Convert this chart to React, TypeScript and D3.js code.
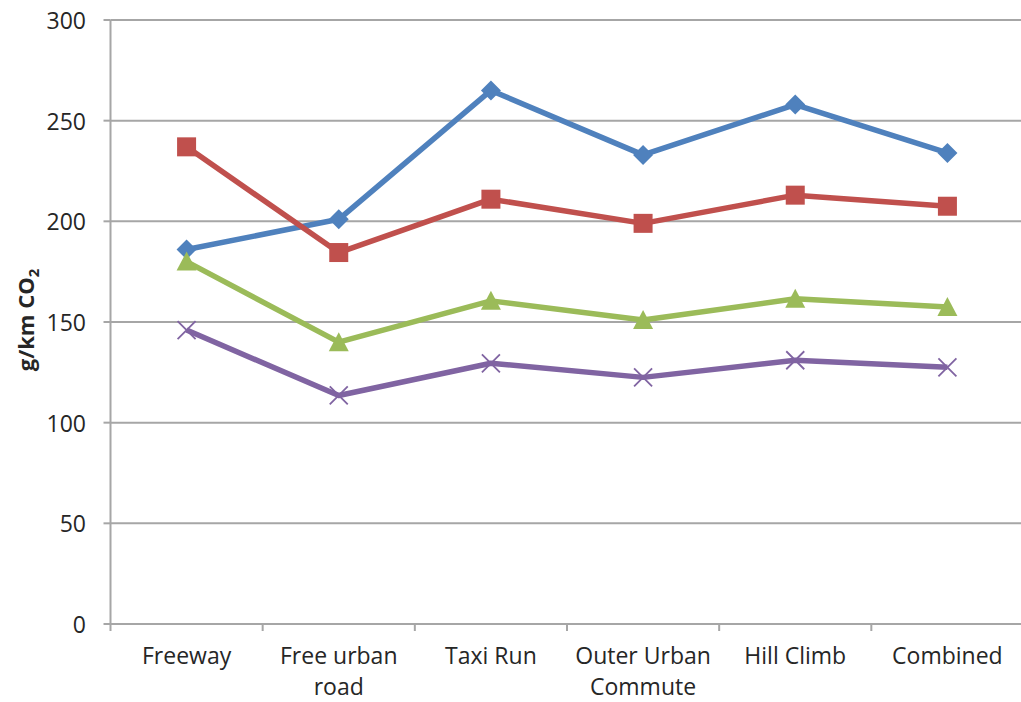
import React from "react";
import * as d3 from "d3";

// Drive cycles on the horizontal axis
const categories = ["Freeway", "Free urban road", "Taxi Run", "Outer Urban Commute", "Hill Climb", "Combined"];
const categoryLines = [["Freeway"], ["Free urban", "road"], ["Taxi Run"], ["Outer Urban", "Commute"], ["Hill Climb"], ["Combined"]];

// CO2 emissions per cycle (g/km)
const seriesA = [186, 201, 265, 233, 258, 234];
const seriesB = [237, 184.5, 211, 199, 213, 207.5];
const seriesC = [180, 140, 160.5, 151, 161.5, 157.5];
const seriesD = [146, 113.5, 129.5, 122.5, 131, 127.5];

const yTicks = [0, 50, 100, 150, 200, 250, 300];

const W = 1021;
const H = 702;
const margin = { left: 110.5, right: 0, top: 20, bottom: 78 };

type Shape = "diamond" | "square" | "triangle" | "x";
const series: { values: number[]; color: string; shape: Shape }[] = [
  { values: seriesA, color: "#4F81BD", shape: "diamond" },
  { values: seriesB, color: "#C0504D", shape: "square" },
  { values: seriesC, color: "#9BBB59", shape: "triangle" },
  { values: seriesD, color: "#8064A2", shape: "x" },
];

const font = "'Open Sans', Lato, sans-serif";

function Marker({ shape, x, y, color }: { shape: Shape; x: number; y: number; color: string }) {
  if (shape === "diamond") {
    const r = 10;
    return <path d={`M${x},${y - r}L${x + r},${y}L${x},${y + r}L${x - r},${y}Z`} fill={color} />;
  }
  if (shape === "square") {
    const r = 9.5;
    return <rect x={x - r} y={y - r} width={2 * r} height={2 * r} fill={color} />;
  }
  if (shape === "triangle") {
    const r = 10;
    return <path d={`M${x},${y - 10}L${x + r},${y + 9}L${x - r},${y + 9}Z`} fill={color} />;
  }
  const r = 9;
  return (
    <path
      d={`M${x - r},${y - r}L${x + r},${y + r}M${x - r},${y + r}L${x + r},${y - r}`}
      stroke={color}
      strokeWidth={1.8}
      fill="none"
    />
  );
}

export default function App() {
  const x = d3
    .scaleBand<string>()
    .domain(categories)
    .range([margin.left, W - margin.right + 2.5]);
  const y = d3.scaleLinear().domain([0, 300]).range([H - margin.bottom, margin.top]);
  const line = d3
    .line<number>()
    .x((_, i) => x(categories[i])! + x.bandwidth() / 2)
    .y((d) => y(d));

  const x0 = margin.left;
  const x1 = W;
  const yBase = y(0);

  return (
    <svg
      width={W}
      height={H}
      style={{ position: "absolute", left: 0, top: 0, background: "#fff" }}
      fontFamily={font}
    >
      {/* horizontal gridlines and y ticks */}
      {yTicks.map((t) => (
        <g key={t}>
          <line x1={x0} x2={x1} y1={y(t)} y2={y(t)} stroke="#A6A6A6" strokeWidth={2} />
          <line x1={x0 - 7} x2={x0} y1={y(t)} y2={y(t)} stroke="#A6A6A6" strokeWidth={2} />
          <text x={86} y={y(t)} textAnchor="end" dominantBaseline="central" fontSize={23} fill="#262626">
            {t}
          </text>
        </g>
      ))}
      {/* y axis */}
      <line x1={x0} x2={x0} y1={y(300)} y2={yBase + 7} stroke="#A6A6A6" strokeWidth={2} />
      {/* category ticks */}
      {categories.map((c, i) =>
        i === 0 ? null : (
          <line key={c} x1={x(c)!} x2={x(c)!} y1={yBase} y2={yBase + 7} stroke="#A6A6A6" strokeWidth={2} />
        )
      )}
      {/* category labels */}
      {categories.map((c, i) => (
        <text
          key={c}
          x={x(c)! + x.bandwidth() / 2}
          y={664}
          textAnchor="middle"
          fontSize={23}
          fill="#262626"
        >
          {categoryLines[i].map((l, j) => (
            <tspan key={j} x={x(c)! + x.bandwidth() / 2} dy={j === 0 ? 0 : 31}>
              {l}
            </tspan>
          ))}
        </text>
      ))}
      {/* y axis title */}
      <text
        transform={`translate(34,${320}) rotate(-90)`}
        textAnchor="middle"
        fontSize={22}
        fontWeight="bold"
        fill="#262626"
      >
        g/km CO
        <tspan fontSize={15} dy={5}>
          2
        </tspan>
      </text>
      {/* series lines */}
      {series.map((s, k) => (
        <path
          key={k}
          d={line(s.values)!}
          fill="none"
          stroke={s.color}
          strokeWidth={5.5}
          strokeLinejoin="round"
        />
      ))}
      {/* markers */}
      {series.map((s, k) =>
        s.values.map((v, i) => (
          <Marker
            key={`${k}-${i}`}
            shape={s.shape}
            x={x(categories[i])! + x.bandwidth() / 2}
            y={y(v)}
            color={s.color}
          />
        ))
      )}
    </svg>
  );
}
